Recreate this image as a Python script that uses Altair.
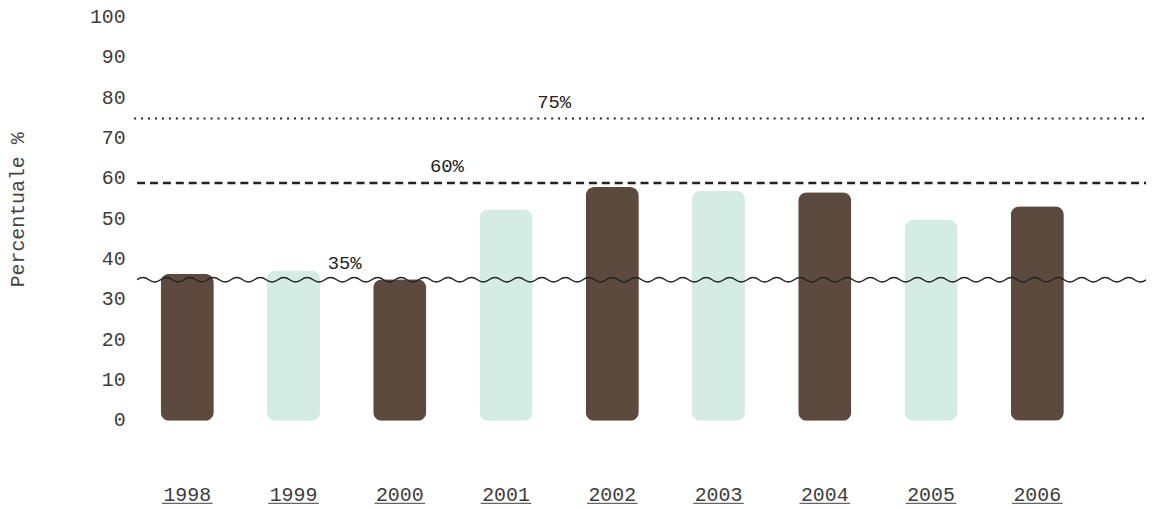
import altair as alt
import pandas as pd

# ---- data ----
years = ['1998', '1999', '2000', '2001', '2002', '2003', '2004', '2005', '2006']
values = [36.5, 37.3, 35.1, 52.4, 58.0, 57.1, 56.7, 49.8, 53.2]
tones = ['scuro', 'chiaro', 'scuro', 'chiaro', 'scuro', 'chiaro', 'scuro', 'chiaro', 'scuro']

ref_values = [75, 59, 35]          # dotted, dashed, wavy reference lines
ref_labels = ['75%', '60%', '35%']
y_ticks = [0, 10, 20, 30, 40, 50, 60, 70, 80, 90, 100]

df = pd.DataFrame({'anno': years, 'valore': values, 'tono': tones})

FONT = 'Liberation Mono'
W, H = 963, 406
LINE_END = 1019

x_enc = alt.X('anno:N', sort=years, axis=None,
              scale=alt.Scale(paddingInner=0.5, paddingOuter=0.25))
y_scale = alt.Scale(domain=[0, 100], nice=False)

bars = alt.Chart(df).mark_bar(cornerRadius=9).encode(
    x=x_enc,
    y=alt.Y('valore:Q', scale=y_scale,
            axis=alt.Axis(values=y_ticks, title='Percentuale %', grid=False,
                          domain=False, ticks=False, labelPadding=9,
                          labelOffset=-1,
                          labelFont=FONT, labelFontSize=20, labelColor='#3c3c3c',
                          titleFont=FONT, titleFontSize=20, titleFontWeight='normal',
                          titleColor='#444', titleX=-117, titleY=193,
                          titleAlign='center', titleBaseline='middle')),
    color=alt.Color('tono:N', legend=None,
                    scale=alt.Scale(domain=['scuro', 'chiaro'],
                                    range=['#5D4A3F', '#D5ECE4'])),
)

year_text = alt.Chart(df).mark_text(font=FONT, fontSize=20, baseline='alphabetic',
                                    color='#3c3c3c').encode(
    x=x_enc, y=alt.value(487), text='anno:N')

underline = alt.Chart(df).mark_bar(width=51, color='#666').encode(
    x=x_enc, y=alt.value(488.4), y2=alt.value(489.8))


def one(v):
    return pd.DataFrame({'v': [v]})


dotted = alt.Chart(one(ref_values[0])).mark_rule(
    strokeDash=[2, 5], strokeWidth=2, color='#222').encode(
    y=alt.Y(datum=ref_values[0]), x=alt.value(0), x2=alt.value(LINE_END))

dashed = alt.Chart(one(ref_values[1])).mark_rule(
    strokeDash=[8, 5], strokeWidth=2.5, color='#222').encode(
    y=alt.Y(datum=ref_values[1]), x=alt.value(3), x2=alt.value(LINE_END))

# wavy line drawn as a long custom symbol (style only)
periods = 43
half = 2.0 / (2 * periods)
amp = 0.0045
parts = ['M-1,0']
for i in range(2 * periods):
    s = -1 if i % 2 == 0 else 1
    parts.append(f'q{half / 2:.5f},{s * 2 * amp:.5f} {half:.5f},0')
wave_path = ' '.join(parts)
wave_len = LINE_END - 3

wavy = alt.Chart(one(ref_values[2])).mark_point(
    shape=wave_path, size=wave_len ** 2, filled=False, stroke='#222',
    strokeWidth=1.4, opacity=1).encode(
    x=alt.value(3 + wave_len / 2), y=alt.Y(datum=ref_values[2]))

label_x = [423, 315, 212]
labels = [
    alt.Chart(one(v)).mark_text(font=FONT, fontSize=19, color='#222',
                                baseline='middle', dy=-17).encode(
        x=alt.value(lx), y=alt.Y(datum=v), text=alt.value(t))
    for v, t, lx in zip(ref_values, ref_labels, label_x)
]

chart = alt.layer(bars, dotted, dashed, wavy, *labels, year_text, underline).properties(
    width=W, height=H,
    autosize=alt.AutoSizeParams(type='none'),
    padding={'left': 127, 'top': 8, 'right': 56, 'bottom': 85},
).configure(background='white').configure_view(strokeWidth=0, stroke='transparent')

chart.save('out.html', embed_options={'renderer': 'svg', 'actions': False})
